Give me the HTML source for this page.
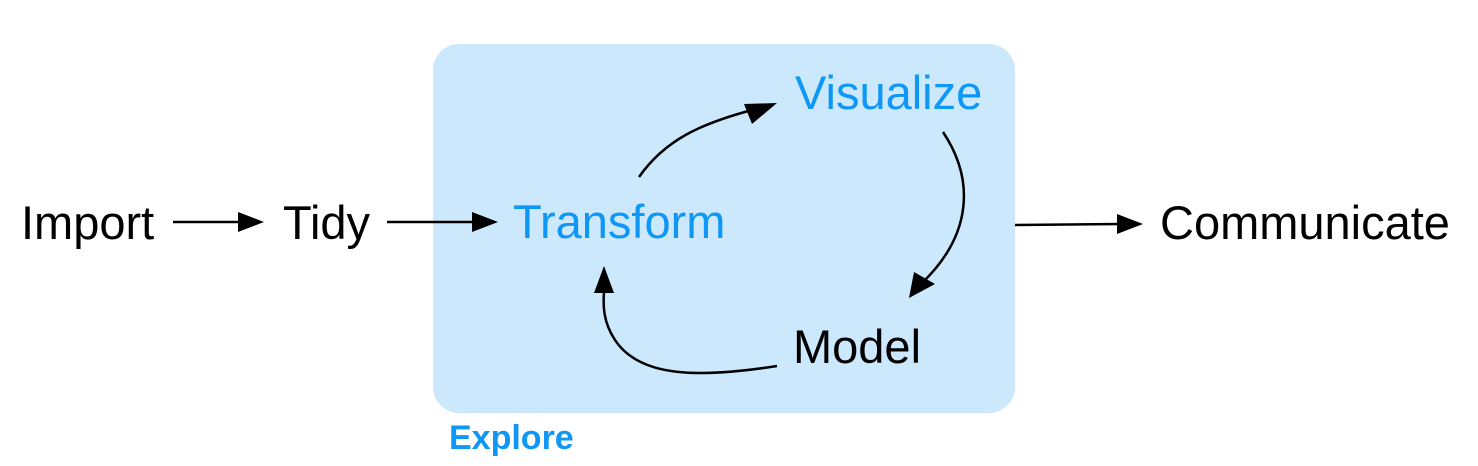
<!DOCTYPE html>
<html><head><style>
html,body{margin:0;padding:0;background:#fff;}
body{width:1478px;height:466px;position:relative;overflow:hidden;font-family:"Liberation Sans",Arial,sans-serif;}
.t{position:absolute;font-size:47px;line-height:1;white-space:nowrap;color:#000;}
.b{color:#0f97f6;}
</style></head><body>
<div style="position:absolute;left:433px;top:44px;width:582px;height:369px;background:#cce8fc;border-radius:26px;"></div>
<svg width="1478" height="466" style="position:absolute;left:0;top:0">
<g stroke="#000" stroke-width="2.5" fill="none">
<line x1="173" y1="222" x2="240" y2="222"/>
<line x1="387" y1="222" x2="475" y2="222"/>
<line x1="1015" y1="225" x2="1120" y2="224"/>
<path d="M639,177 C665,140 700,124 752,110"/>
<path d="M943,132 C975,180 972,235 922,283"/>
<path d="M777,366 C700,378 640,378 615,340 C603,322 603,305 604,292"/>
</g>
<g fill="#000">
<polygon points="264,222 238,212 238,232"/>
<polygon points="498,222 472,212 472,232"/>
<polygon points="1143,224 1117,214 1117,234"/>
<polygon points="777,103 752,124 744,104"/>
<polygon points="909,298 914,272 935,284"/>
<polygon points="604,266 594,293 614,293"/>
</g>
</svg>
<div class="t" style="left:21px;top:199px;">Import</div>
<div class="t" style="left:283px;top:199px;">Tidy</div>
<div class="t b" style="left:513px;top:198px;">Transform</div>
<div class="t b" style="left:795px;top:69px;">Visualize</div>
<div class="t" style="left:793px;top:323px;">Model</div>
<div class="t" style="left:1160px;top:199px;">Communicate</div>
<div class="t b" style="left:449px;top:421px;font-size:34px;font-weight:bold;">Explore</div>
</body></html>
